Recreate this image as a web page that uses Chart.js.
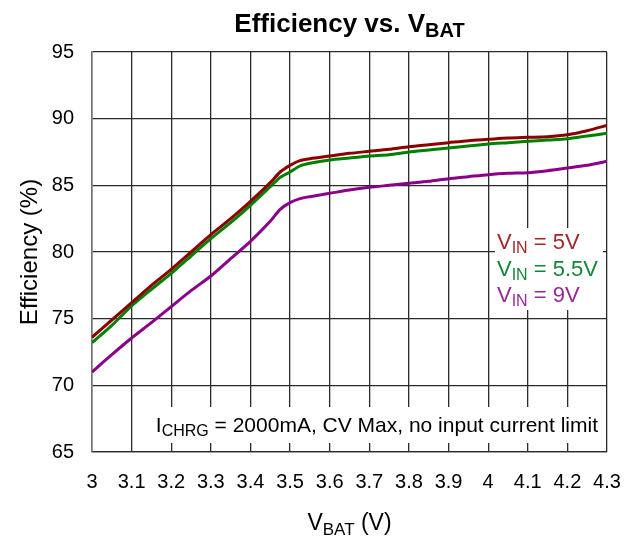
<!DOCTYPE html>
<html>
<head>
<meta charset="utf-8">
<script src="https://cdn.jsdelivr.net/npm/chart.js@4.4.1/dist/chart.umd.min.js"></script>
<style>
  html, body { margin: 0; padding: 0; background: #fff; }
  #wrap { width: 637px; height: 539px; }
</style>
</head>
<body>
<div id="wrap"><canvas id="effChart" width="637" height="539"></canvas></div>
<script>
// V_BAT sample points (V)
const vbat = [3.0, 3.05, 3.1, 3.15, 3.2, 3.25, 3.3, 3.35, 3.4, 3.45, 3.475, 3.5, 3.525, 3.55, 3.6,
              3.65, 3.7, 3.75, 3.8, 3.85, 3.9, 3.95, 4.0, 4.05, 4.1, 4.15, 4.2, 4.25, 4.3];

// efficiency (%) for each input voltage
const eff5V = [73.6, 74.9, 76.2, 77.5, 78.7, 80.0, 81.3, 82.5, 83.8, 85.2, 86.0, 86.5, 86.85, 87.0, 87.2,
               87.4, 87.55, 87.7, 87.9, 88.05, 88.2, 88.35, 88.45, 88.55, 88.6, 88.65, 88.8, 89.1, 89.5];
const eff5V5 = [73.2, 74.5, 75.95, 77.2, 78.4, 79.7, 81.0, 82.2, 83.5, 84.9, 85.6, 86.0, 86.45, 86.65, 86.9,
                87.05, 87.2, 87.3, 87.5, 87.65, 87.8, 87.95, 88.1, 88.2, 88.3, 88.4, 88.5, 88.7, 88.9];
const eff9V = [71.0, 72.3, 73.55, 74.7, 75.9, 77.1, 78.2, 79.5, 80.8, 82.3, 83.2, 83.7, 84.0, 84.15, 84.4,
               84.65, 84.85, 85.0, 85.15, 85.3, 85.5, 85.65, 85.8, 85.9, 85.95, 86.1, 86.3, 86.5, 86.8];

const seriesNames = ['5V', '5.5V', '9V'];
const lineColors = ['#8b0000', '#008000', '#8b008b'];
const textColors = ['#a3282a', '#12873a', '#9b289b'];

const FONT = '"Liberation Sans", Arial, sans-serif';

function pts(ys) {
    return vbat.map((x, i) => ({ x: x, y: ys[i] }));
}

// draw text with a subscript part: parts = [[text, isSub], ...]
function drawParts(ctx, parts, x, y, size, subSize, bold, align) {
    const w = (p) => {
        ctx.font = (bold ? 'bold ' : '') + (p[1] ? subSize : size) + 'px ' + FONT;
        return ctx.measureText(p[0]).width;
    };
    let total = 0;
    parts.forEach(p => total += w(p));
    let cx = x;
    if (align === 'center') cx = x - total / 2;
    if (align === 'right') cx = x - total;
    ctx.textBaseline = 'alphabetic';
    ctx.textAlign = 'left';
    parts.forEach(p => {
        const pw = w(p);
        ctx.fillText(p[0], cx, p[1] ? y + size * 0.2 : y);
        cx += pw;
    });
}

const decorations = {
    id: 'decorations',
    beforeDatasetsDraw(chart) {
        const ctx = chart.ctx;
        ctx.save();
        ctx.fillStyle = '#fff';
        // legend box and condition box cover the grid
        ctx.fillRect(495, 228, 108, 82);
        ctx.fillRect(134, 407, 470, 36);
        ctx.restore();
    },
    afterDraw(chart) {
        const ctx = chart.ctx;
        const a = chart.chartArea;
        const midX = (a.left + a.right) / 2;
        ctx.save();
        ctx.fillStyle = '#000';
        // title
        drawParts(ctx, [['Efficiency vs. V', false], ['BAT', true]], midX, 32, 26, 20, true, 'center');
        // x axis title
        drawParts(ctx, [['V', false], ['BAT', true], [' (V)', false]], midX, 530, 23, 17, false, 'center');
        // condition note
        drawParts(ctx, [['I', false], ['CHRG', true], [' = 2000mA, CV Max, no input current limit', false]],
                  598, 432, 21, 16, false, 'right');
        // series labels
        seriesNames.forEach((n, i) => {
            ctx.fillStyle = textColors[i];
            drawParts(ctx, [['V', false], ['IN', true], [' = ' + n, false]], 497, 249 + i * 26.5, 22, 16, false, 'left');
        });
        // y axis title
        ctx.fillStyle = '#000';
        ctx.translate(30, (a.top + a.bottom) / 2);
        ctx.rotate(-Math.PI / 2);
        ctx.font = '24px ' + FONT;
        ctx.textAlign = 'center';
        ctx.textBaseline = 'middle';
        ctx.fillText('Efficiency (%)', 0, 0);
        ctx.restore();
    }
};

const ctx = document.getElementById('effChart').getContext('2d');

new Chart(ctx, {
    type: 'line',
    data: {
        datasets: [
            { label: 'VIN = 5V', data: pts(eff5V), borderColor: lineColors[0] },
            { label: 'VIN = 5.5V', data: pts(eff5V5), borderColor: lineColors[1] },
            { label: 'VIN = 9V', data: pts(eff9V), borderColor: lineColors[2] }
        ]
    },
    options: {
        responsive: false,
        animation: false,
        layout: { padding: { left: 0, right: 30, top: 52, bottom: 0 } },
        elements: {
            line: { borderWidth: 3, tension: 0.25, fill: false },
            point: { radius: 0 }
        },
        plugins: {
            legend: { display: false },
            title: { display: false },
            tooltip: { enabled: false }
        },
        scales: {
            x: {
                type: 'linear',
                min: 3,
                max: 4.3,
                afterFit: (s) => { s.height = 87; s.paddingRight = 0; },
                grid: { color: '#2a2a2a', lineWidth: 1.3, drawTicks: false },
                border: { color: '#2a2a2a', width: 1.3 },
                ticks: {
                    stepSize: 0.1,
                    padding: 18,
                    color: '#000',
                    font: { family: FONT, size: 20 },
                    maxRotation: 0,
                    autoSkip: false,
                    callback: (v) => String(Number(v.toFixed(1)))
                }
            },
            y: {
                min: 65,
                max: 95,
                afterFit: (s) => { s.width = 92; },
                grid: { color: '#2a2a2a', lineWidth: 1.3, drawTicks: false },
                border: { color: '#777', width: 1.5 },
                ticks: {
                    stepSize: 5,
                    padding: 18,
                    color: '#000',
                    font: { family: FONT, size: 20 }
                }
            }
        }
    },
    plugins: [decorations]
});
</script>
</body>
</html>
